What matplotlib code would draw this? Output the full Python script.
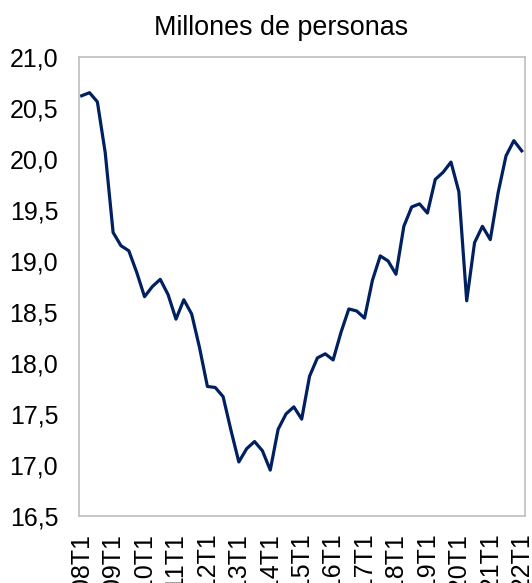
import matplotlib
matplotlib.use("Agg")
import matplotlib.pyplot as plt
from matplotlib.ticker import FixedLocator, FuncFormatter

plt.rcParams['font.family'] = ['Liberation Sans', 'DejaVu Sans']

years = list(range(2008, 2023))
quarters = [f"{y}T{q}" for y in years for q in (1, 2, 3, 4)][:57]
ocupados = [20.62, 20.65, 20.56, 20.06,
            19.28, 19.15, 19.10, 18.89,
            18.65, 18.75, 18.82, 18.67,
            18.43, 18.62, 18.48, 18.15,
            17.77, 17.76, 17.67, 17.34,
            17.03, 17.16, 17.23, 17.14,
            16.95, 17.35, 17.50, 17.57,
            17.45, 17.87, 18.05, 18.09,
            18.03, 18.30, 18.53, 18.51,
            18.44, 18.81, 19.05, 19.00,
            18.87, 19.34, 19.53, 19.56,
            19.47, 19.80, 19.87, 19.97,
            19.68, 18.61, 19.18, 19.34,
            19.21, 19.67, 20.03, 20.18,
            20.08]
tick_labels = [f"{y}T1" for y in years]
yticks = [16.5, 17.0, 17.5, 18.0, 18.5, 19.0, 19.5, 20.0, 20.5, 21.0]

fig = plt.figure(figsize=(5.32, 5.83), dpi=100)
ax = fig.add_axes([79/532, 1-516/583, (525-79)/532, (516-57)/583])

x = list(range(len(ocupados)))
ax.plot(x, ocupados, color='#002060', lw=2.3, solid_joinstyle='round')

ax.set_xlim(-0.34, 56.42)
ax.set_ylim(16.5, 21.0)
ax.yaxis.set_major_locator(FixedLocator(yticks))
ax.yaxis.set_major_formatter(FuncFormatter(lambda v, p: f"{v:.1f}".replace('.', ',')))
ax.set_xticks([quarters.index(t) for t in tick_labels])
ax.set_xticklabels(tick_labels, rotation=90, va='top', ha='center')
ax.tick_params(axis='both', length=0, labelsize=18)
ax.tick_params(axis='y', pad=15)
ax.tick_params(axis='x', pad=12)
for s in ax.spines.values():
    s.set_color('#BFBFBF')
    s.set_linewidth(1.2)

fig.text(281/532, 1-28/583, "Millones de personas", ha='center', va='center', fontsize=19.4)

fig.savefig("out.png", dpi=100)
